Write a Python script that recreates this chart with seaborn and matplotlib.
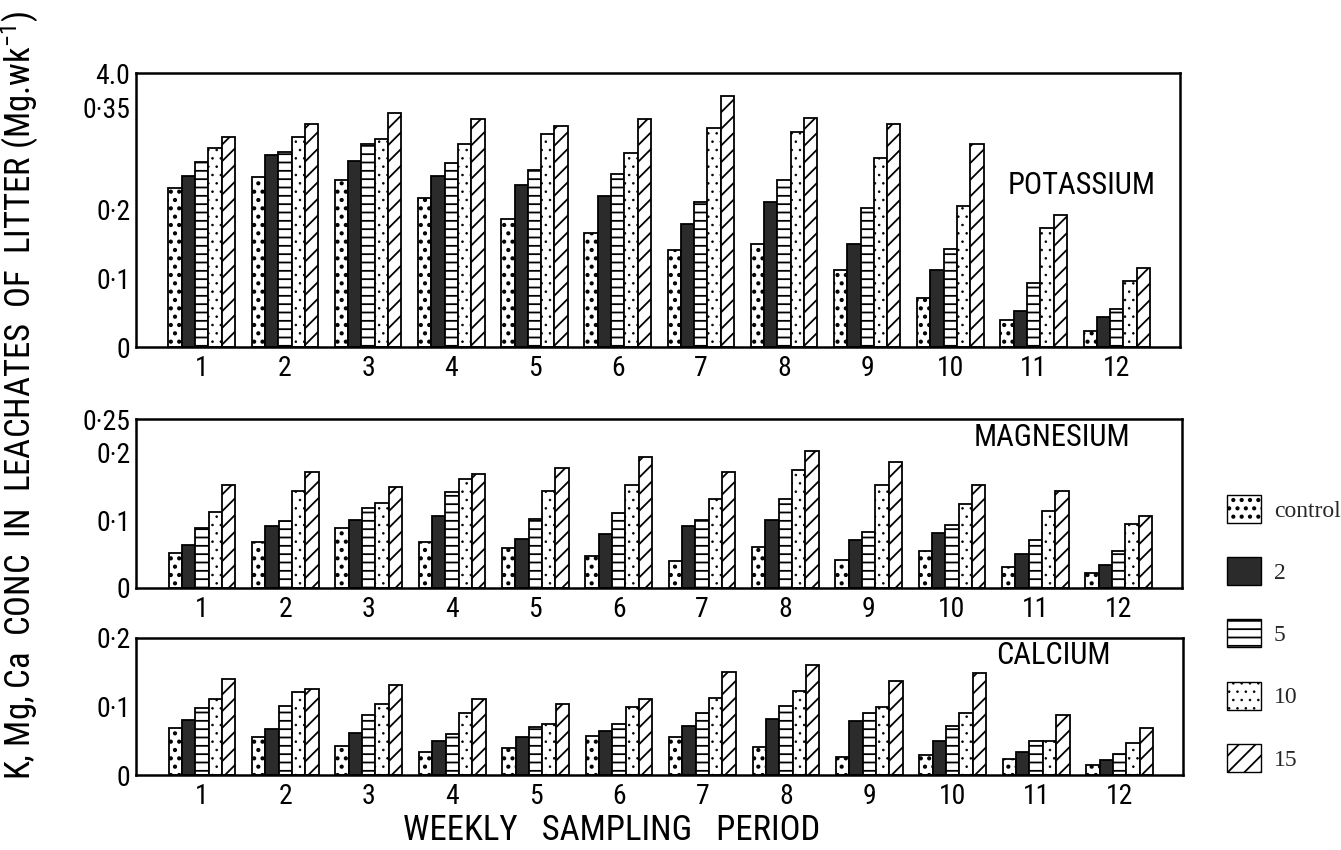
import numpy as np
import pandas as pd
import matplotlib
matplotlib.use("Agg")
import matplotlib.pyplot as plt
from matplotlib.patches import Patch
from matplotlib import font_manager
import seaborn as sns

# ---------------- data ----------------
weeks = [str(i) for i in range(1, 13)]
treatments = ["control", "2", "5", "10", "15"]

K_control = [0.232, 0.248, 0.244, 0.218, 0.187, 0.167, 0.141, 0.151, 0.112, 0.072, 0.040, 0.024]
K_2 = [0.250, 0.281, 0.272, 0.249, 0.237, 0.220, 0.180, 0.212, 0.150, 0.113, 0.052, 0.044]
K_5 = [0.270, 0.285, 0.296, 0.268, 0.259, 0.252, 0.212, 0.244, 0.203, 0.143, 0.094, 0.056]
K_10 = [0.291, 0.306, 0.304, 0.296, 0.311, 0.283, 0.319, 0.314, 0.276, 0.206, 0.173, 0.096]
K_15 = [0.307, 0.326, 0.341, 0.333, 0.322, 0.333, 0.366, 0.335, 0.325, 0.297, 0.193, 0.116]

Mg_control = [0.052, 0.068, 0.089, 0.068, 0.059, 0.048, 0.040, 0.060, 0.041, 0.055, 0.031, 0.022]
Mg_2 = [0.063, 0.091, 0.100, 0.107, 0.073, 0.080, 0.091, 0.101, 0.071, 0.082, 0.050, 0.034]
Mg_5 = [0.089, 0.099, 0.118, 0.142, 0.102, 0.111, 0.101, 0.132, 0.083, 0.093, 0.071, 0.055]
Mg_10 = [0.112, 0.144, 0.126, 0.161, 0.143, 0.152, 0.132, 0.174, 0.153, 0.124, 0.114, 0.095]
Mg_15 = [0.153, 0.172, 0.150, 0.168, 0.178, 0.194, 0.172, 0.203, 0.186, 0.153, 0.144, 0.106]

Ca_control = [0.069, 0.055, 0.042, 0.034, 0.040, 0.057, 0.056, 0.041, 0.027, 0.029, 0.024, 0.014]
Ca_2 = [0.081, 0.067, 0.062, 0.050, 0.056, 0.064, 0.071, 0.082, 0.079, 0.049, 0.034, 0.022]
Ca_5 = [0.098, 0.101, 0.087, 0.060, 0.070, 0.075, 0.091, 0.101, 0.091, 0.071, 0.049, 0.031]
Ca_10 = [0.111, 0.121, 0.103, 0.090, 0.074, 0.099, 0.112, 0.122, 0.100, 0.091, 0.049, 0.046]
Ca_15 = [0.140, 0.125, 0.132, 0.111, 0.103, 0.111, 0.151, 0.161, 0.137, 0.149, 0.088, 0.069]

panel_names = ["POTASSIUM", "MAGNESIUM", "CALCIUM"]
ytick_vals_K = [0, 0.05, 0.1, 0.15, 0.2, 0.25, 0.3, 0.35, 0.4]
ytick_labs_K = ["0", "", "0·1", "", "0·2", "", "", "0·35", "4.0"]
ytick_vals_Mg = [0, 0.05, 0.1, 0.15, 0.2, 0.25]
ytick_labs_Mg = ["0", "", "0·1", "", "0·2", "0·25"]
ytick_vals_Ca = [0, 0.05, 0.1, 0.15, 0.2]
ytick_labs_Ca = ["0", "", "0·1", "", "0·2"]

# ---------------- styling ----------------
sns.set_theme(style="white")
avail = {f.name for f in font_manager.fontManager.ttflist}
sans_font = next((f for f in ["Liberation Sans Narrow", "Roboto Condensed", "Open Sans Condensed",
                              "DejaVu Sans Condensed", "Liberation Sans", "DejaVu Sans"] if f in avail),
                 "DejaVu Sans")
serif_font = next((f for f in ["Liberation Serif", "DejaVu Serif"] if f in avail), "DejaVu Serif")
plt.rcParams["font.family"] = [sans_font, "DejaVu Sans"]
plt.rcParams["mathtext.default"] = "regular"
plt.rcParams["hatch.linewidth"] = 1.3
plt.rcParams["hatch.color"] = "black"

fills = {"control": "white", "2": "#2b2b2b", "5": "white", "10": "white", "15": "white"}
hatches = {"control": "..", "2": "", "5": "--", "10": "..", "15": "//"}
hatch_lw = {"control": 1.8, "2": 1.3, "5": 1.3, "10": 0.6, "15": 1.3}


def style_patch(p, t):
    p.set_facecolor(fills[t])
    p.set_hatch(hatches[t])
    p.set_edgecolor("black")
    if hasattr(p, "set_hatch_linewidth"):
        try:
            p.set_hatch_linewidth(hatch_lw[t])
        except Exception:
            pass


W, H = 1341, 850
fig = plt.figure(figsize=(W / 100, H / 100), dpi=100)


def frac_rect(x0, y_top, x1, y_bot):
    return [x0 / W, 1 - y_bot / H, (x1 - x0) / W, (y_bot - y_top) / H]


ax_K = fig.add_axes(frac_rect(136, 73, 1180, 347))
ax_Mg = fig.add_axes(frac_rect(136, 419, 1182, 588))
ax_Ca = fig.add_axes(frac_rect(136, 638, 1183, 775))

panels = [
    (ax_K, [K_control, K_2, K_5, K_10, K_15], 0.4, ytick_vals_K, ytick_labs_K, "POTASSIUM", (0.906, 0.59)),
    (ax_Mg, [Mg_control, Mg_2, Mg_5, Mg_10, Mg_15], 0.25, ytick_vals_Mg, ytick_labs_Mg, "MAGNESIUM", (0.876, 0.89)),
    (ax_Ca, [Ca_control, Ca_2, Ca_5, Ca_10, Ca_15], 0.2, ytick_vals_Ca, ytick_labs_Ca, "CALCIUM", (0.876, 0.87)),
]

for ax, series, ymax, tv, tl, name, pos in panels:
    df = pd.DataFrame({
        "week": weeks * len(treatments),
        "treatment": np.repeat(treatments, len(weeks)),
        "value": np.concatenate(series),
    })
    sns.barplot(data=df, x="week", y="value", hue="treatment", hue_order=treatments,
                order=weeks, ax=ax, width=0.8, gap=0, legend=False, errorbar=None,
                edgecolor="black", linewidth=1.3)
    for cont, t in zip(ax.containers, treatments):
        for bar in cont:
            style_patch(bar, t)
    ax.set_xlim(-0.79, 11.76)
    ax.set_ylim(0, ymax)
    ax.set_yticks(tv)
    ax.set_yticklabels(tl)
    ax.set_xlabel("")
    ax.set_ylabel("")
    ax.tick_params(axis="y", direction="in", length=8, width=1.5, labelsize=20, pad=4, colors="black")
    ax.tick_params(axis="x", length=0, labelsize=20, pad=6, colors="black")
    for s in ax.spines.values():
        s.set_visible(True)
        s.set_linewidth(1.8)
        s.set_color("black")
    ax.text(pos[0], pos[1], name, transform=ax.transAxes, ha="center", va="center",
            fontsize=22, color="black")

fig.text(20 / W, 1 - 395 / H, "K, Mg, Ca  CONC  IN  LEACHATES  OF  LITTER (Mg.wk$^{-1}$)",
         rotation=90, ha="center", va="center", fontsize=25, color="black")
fig.text(612 / W, 1 - 830 / H, "WEEKLY   SAMPLING   PERIOD", ha="center", va="center",
         fontsize=25, color="black")

handles = []
for t in treatments:
    hp = Patch(facecolor=fills[t], edgecolor="black", hatch=hatches[t], linewidth=1.0, label=t)
    handles.append(hp)
leg = fig.legend(handles=handles, loc="upper left", bbox_to_anchor=(1215 / W, 1 - 483 / H),
                 frameon=False, borderpad=0, handlelength=1.45, handleheight=1.45,
                 labelspacing=1.45, handletextpad=0.55, prop={"family": serif_font, "size": 17})
for hp, t in zip(leg.get_patches(), treatments):
    style_patch(hp, t)
    hp.set_linewidth(1.0)

fig.savefig("out.png", dpi=100)
